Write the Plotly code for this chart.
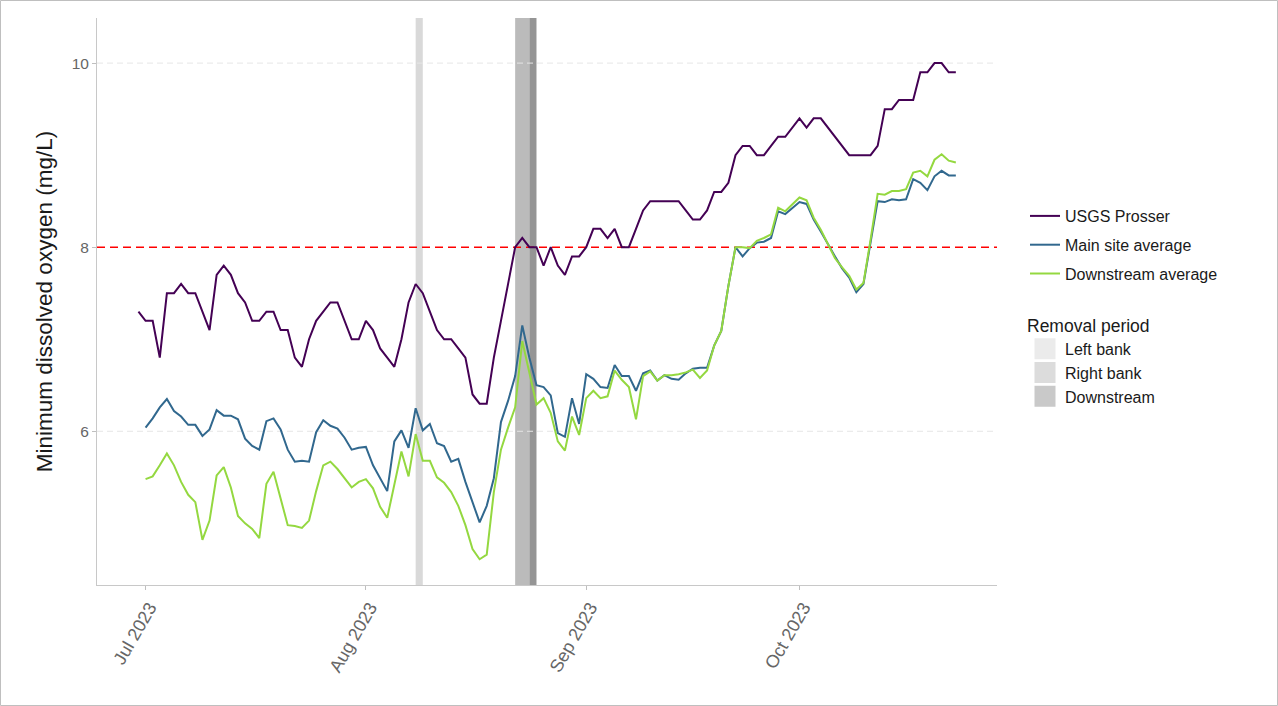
import pandas as pd
import plotly.graph_objects as go

# ---------------- data ----------------
usgs_start = "2023-06-30"
site_start = "2023-07-01"

usgs_prosser = [
    7.3,
    7.2, 7.2, 6.8, 7.5, 7.5, 7.6, 7.5, 7.5, 7.3, 7.1,
    7.7, 7.8, 7.7, 7.5, 7.4, 7.2, 7.2, 7.3, 7.3, 7.1,
    7.1, 6.8, 6.7, 7.0, 7.2, 7.3, 7.4, 7.4, 7.2, 7.0, 7.0,
    7.2, 7.1, 6.9, 6.8, 6.7, 7.0, 7.4, 7.6, 7.5, 7.3,
    7.1, 7.0, 7.0, 6.9, 6.8, 6.4, 6.3, 6.3, 6.8, 7.2,
    7.6, 8.0, 8.1, 8.0, 8.0, 7.8, 8.0, 7.8, 7.7, 7.9, 7.9,
    8.0, 8.2, 8.2, 8.1, 8.2, 8.0, 8.0, 8.2, 8.4, 8.5,
    8.5, 8.5, 8.5, 8.5, 8.4, 8.3, 8.3, 8.4, 8.6, 8.6,
    8.7, 9.0, 9.1, 9.1, 9.0, 9.0, 9.1, 9.2, 9.2, 9.3,
    9.4, 9.3, 9.4, 9.4, 9.3, 9.2, 9.1, 9.0, 9.0, 9.0,
    9.0, 9.1, 9.5, 9.5, 9.6, 9.6, 9.6, 9.9, 9.9, 10.0,
    10.0, 9.9, 9.9,
]

main_site_avg = [
    6.04, 6.14, 6.26, 6.35, 6.22, 6.16, 6.07, 6.07, 5.95, 6.02,
    6.23, 6.17, 6.17, 6.13, 5.92, 5.84, 5.80, 6.11, 6.14, 6.02,
    5.80, 5.67, 5.68, 5.67, 5.99, 6.12, 6.06, 6.03, 5.93, 5.80, 5.82,
    5.83, 5.63, 5.49, 5.35, 5.89, 6.01, 5.82, 6.25, 6.01, 6.08,
    5.87, 5.84, 5.67, 5.70, 5.45, 5.23, 5.01, 5.19, 5.49, 6.10,
    6.33, 6.60, 7.15, 6.80, 6.50, 6.48, 6.39, 5.98, 5.94, 6.36, 6.08,
    6.62, 6.57, 6.48, 6.47, 6.72, 6.60, 6.60, 6.44, 6.63, 6.66,
    6.55, 6.61, 6.57, 6.56, 6.63, 6.68, 6.69, 6.69, 6.93, 7.09,
    7.58, 8.00, 7.90, 7.99, 8.05, 8.06, 8.10, 8.39, 8.36, 8.42,
    8.49, 8.47, 8.30, 8.17, 8.03, 7.90, 7.77, 7.67, 7.51, 7.60,
    8.05, 8.50, 8.49, 8.52, 8.51, 8.52, 8.74, 8.70, 8.62, 8.77,
    8.83, 8.78, 8.78,
]

downstream_avg = [
    5.48, 5.51, 5.63, 5.76, 5.63, 5.45, 5.31, 5.23, 4.82, 5.03,
    5.52, 5.61, 5.39, 5.08, 5.00, 4.94, 4.84, 5.43, 5.56, 5.27,
    4.98, 4.97, 4.95, 5.03, 5.35, 5.63, 5.67, 5.59, 5.49, 5.39, 5.45,
    5.48, 5.38, 5.18, 5.06, 5.42, 5.78, 5.51, 5.97, 5.68, 5.68,
    5.50, 5.44, 5.34, 5.19, 4.98, 4.72, 4.61, 4.66, 5.34, 5.80,
    6.04, 6.26, 6.98, 6.64, 6.29, 6.36, 6.20, 5.89, 5.79, 6.16, 5.96,
    6.36, 6.44, 6.36, 6.38, 6.66, 6.56, 6.48, 6.13, 6.60, 6.65,
    6.55, 6.61, 6.61, 6.62, 6.64, 6.67, 6.58, 6.66, 6.93, 7.09,
    7.58, 8.00, 8.00, 7.99, 8.07, 8.10, 8.14, 8.43, 8.39, 8.46,
    8.54, 8.51, 8.32, 8.19, 8.03, 7.88, 7.78, 7.69, 7.54, 7.61,
    8.08, 8.58, 8.57, 8.61, 8.61, 8.63, 8.81, 8.83, 8.77, 8.95,
    9.01, 8.94, 8.92,
]

removal_names = ["Left bank", "Right bank", "Downstream"]
removal_start = ["2023-08-08", "2023-08-22", "2023-08-24"]
removal_end = ["2023-08-09", "2023-08-24", "2023-08-25"]

threshold = 8
y_ticks = [6, 8, 10]
x_ticks = ["2023-07-01", "2023-08-01", "2023-09-01", "2023-10-01"]
x_tick_labels = ["Jul 2023", "Aug 2023", "Sep 2023", "Oct 2023"]

# ---------------- styles ----------------
line_colors = {"USGS Prosser": "#440154", "Main site average": "#31688e",
               "Downstream average": "#94d840"}
band_colors = ["#d9d9d9", "#bbbbbb", "#959595"]
band_legend_colors = ["#ebebeb", "#dcdcdc", "#c9c9c9"]

usgs_dates = pd.date_range(usgs_start, periods=len(usgs_prosser), freq="D")
site_dates = pd.date_range(site_start, periods=len(main_site_avg), freq="D")

FONT = "Liberation Sans, Arial, sans-serif"
W, H = 1278, 706
ML, MR, MT, MB = 97, 281, 18, 121
PW, PH = W - ML - MR, H - MT - MB

fig = go.Figure()

series = [
    ("USGS Prosser", usgs_dates, usgs_prosser),
    ("Main site average", site_dates, main_site_avg),
    ("Downstream average", site_dates, downstream_avg),
]
for name, xs, ys in series:
    fig.add_trace(go.Scatter(
        x=xs, y=ys, mode="lines", name=name, legendgroup=name,
        line=dict(color=line_colors[name], width=2),
        legend="legend",
    ))

# removal period bands
for s, e, c in zip(removal_start, removal_end, band_colors):
    fig.add_shape(type="rect", xref="x", yref="paper", x0=s, x1=e, y0=0, y1=1,
                  fillcolor=c, line_width=0, layer="below")

# light dashed grid lines (except where the threshold line sits)
for v in y_ticks:
    if v != threshold:
        fig.add_shape(type="line", xref="paper", yref="y", x0=0, x1=1, y0=v, y1=v,
                      line=dict(color="#e6e6e6", width=1, dash="6px,4px"), layer="below")

# threshold line
fig.add_shape(type="line", xref="paper", yref="y", x0=0, x1=1,
              y0=threshold, y1=threshold,
              line=dict(color="#ff0000", width=1.5, dash="8px,5px"), layer="below")

# legend entries for removal periods
for name, c in zip(removal_names, band_legend_colors):
    fig.add_trace(go.Scatter(
        x=[None], y=[None], mode="markers", name=name,
        marker=dict(symbol="square", size=16, color=c, line=dict(color=c, width=5)),
        legend="legend2",
    ))

# outer border
fig.add_shape(type="rect", xref="paper", yref="paper",
              x0=(0.5 - ML) / PW, x1=(W - 0.5 - ML) / PW,
              y0=(0.5 - MB) / PH, y1=(H - 0.5 - MB) / PH,
              line=dict(color="#bfbfbf", width=1), fillcolor="rgba(0,0,0,0)")

fig.update_layout(
    width=W, height=H,
    margin=dict(l=ML, r=MR, t=MT, b=MB),
    paper_bgcolor="white", plot_bgcolor="white",
    font=dict(family=FONT, color="#333333"),
    legend=dict(
        x=(1025 - ML) / PW, y=(585 - 199) / PH, xanchor="left", yanchor="top",
        font=dict(size=16, color="#1a1a1a"), tracegroupgap=5, itemwidth=30,
        bgcolor="rgba(0,0,0,0)",
    ),
    legend2=dict(
        x=(1025 - ML) / PW, y=(585 - 309) / PH, xanchor="left", yanchor="top",
        font=dict(size=16, color="#1a1a1a"), itemwidth=30,
        title=dict(text="Removal period", font=dict(size=17.5, color="#1a1a1a")),
        bgcolor="rgba(0,0,0,0)",
    ),
    xaxis=dict(
        type="date",
        range=["2023-06-24 04:00", "2023-10-28 19:00"],
        tickvals=x_ticks, ticktext=x_tick_labels, tickangle=-60,
        tickfont=dict(size=18, color="#666666"),
        ticklabelshift=4,
        ticks="outside", ticklen=4, tickcolor="#bfbfbf",
        showline=True, linecolor="#c8c8c8", linewidth=1,
        showgrid=False, zeroline=False,
    ),
    yaxis=dict(
        range=[4.33, 10.49],
        tickvals=y_ticks,
        tickfont=dict(size=15.5, color="#666666"),
        ticks="outside", ticklen=4, tickcolor="#bfbfbf",
        showline=True, linecolor="#c8c8c8", linewidth=1,
        showgrid=False, zeroline=False,
        title=dict(text="Minimum dissolved oxygen (mg/L)",
                   font=dict(size=22.5, color="#1a1a1a"), standoff=12),
    ),
)

fig.write_html("out.html", config={"displayModeBar": False},
               post_script="document.body.style.margin='0px';")
